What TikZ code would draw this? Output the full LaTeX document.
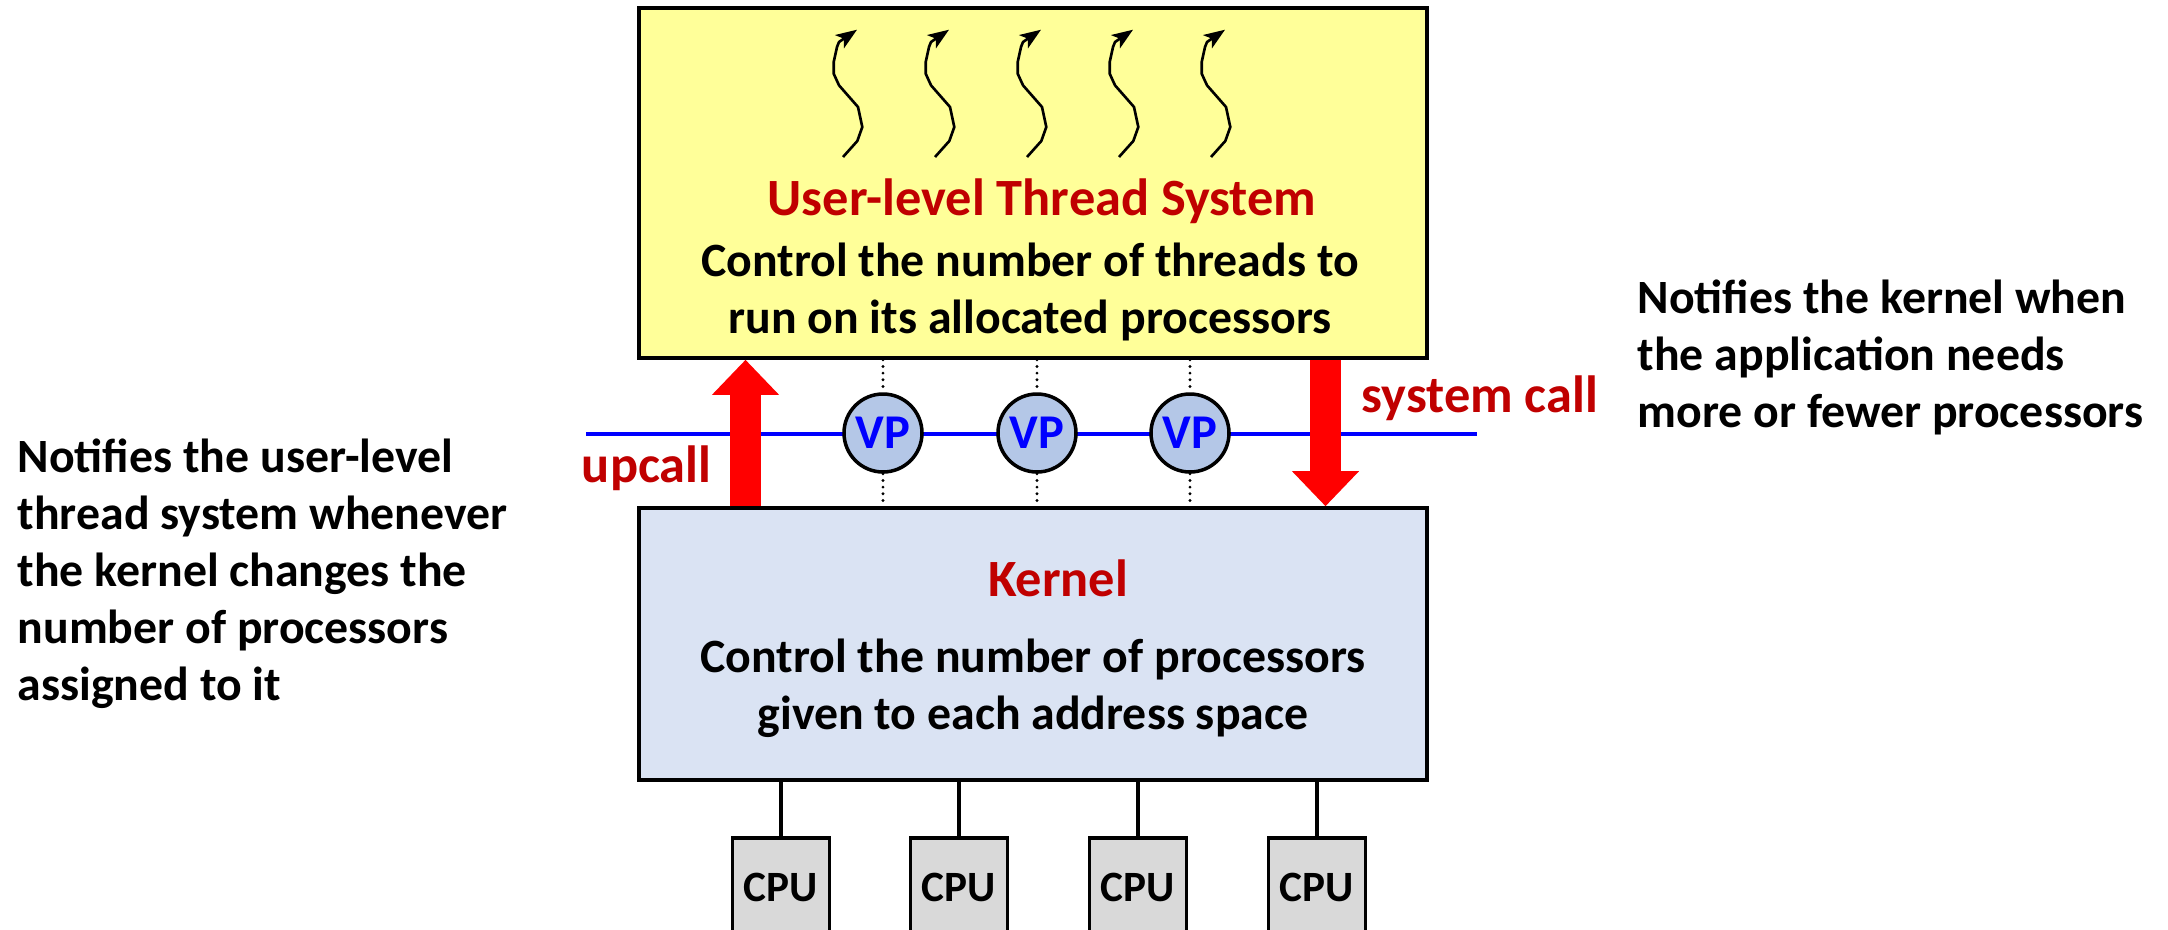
\documentclass[tikz,border=0pt]{standalone}
\usepackage{fontspec}
\setmainfont{Carlito}
\usepackage{xcolor}
\definecolor{slide-red}{HTML}{C00000}
\definecolor{call-red}{HTML}{FF0000}
\definecolor{bus-blue}{HTML}{0000FF}
\definecolor{user-yellow}{HTML}{FFFF99}
\definecolor{kernel-blue}{HTML}{DAE3F3}
\definecolor{vp-fill}{HTML}{B4C7E7}
\definecolor{cpu-grey}{HTML}{D9D9D9}
\usepackage{tikz}
\usetikzlibrary{arrows.meta}

\tikzset{
    layerbox/.style={draw=black, line width=1pt, minimum width=7.88cm, inner sep=0pt},
    heading/.style={font=\bfseries\fontsize{14.9}{17.5}\selectfont, text=slide-red, inner sep=0pt},
    bodytext/.style={font=\bfseries\fontsize{13.6}{16.2}\selectfont, inner sep=0pt},
    vpnode/.style={circle, draw=black, line width=1pt, fill=vp-fill, minimum size=0.78cm, inner sep=0pt, text=bus-blue, font=\bfseries\fontsize{13.8}{16}\selectfont},
    cpunode/.style={draw=black, line width=1pt, fill=cpu-grey, minimum width=0.97cm, minimum height=1.0cm, anchor=north, inner sep=0pt, font=\bfseries\fontsize{12.3}{14}\selectfont},
    callarrow/.style={call-red, line width=8.8pt, -{Triangle[width=18.5pt, length=10pt]}},
    vplink/.style={black, line width=0.9pt, dash pattern=on 0pt off 1.9pt, line cap=round},
    thread/.style={black, line width=0.75pt, line join=round, -{Stealth[length=6pt, width=4.5pt, inset=1.5pt]}},
}

\begin{document}
\begin{tikzpicture}

    % Canvas
    \useasboundingbox (0, 0) rectangle (21.68, -9.29);
    \clip (0, 0) rectangle (21.68, -9.29);

    % User level
    \node[layerbox, fill=user-yellow, minimum height=3.50cm] (user) at (10.33, -1.83) {};
    \foreach \tx in {8.43, 9.35, 10.27, 11.19, 12.11}
        \draw[thread, shift={(\tx, -1.57)}] (0, 0) -- (0.143, 0.16) -- (0.193, 0.30) -- (0.15, 0.50) -- (-0.04, 0.717) -- (-0.093, 0.833) -- (-0.093, 0.95) -- (-0.06, 1.10) -- (-0.04, 1.15) -- (0.14, 1.273);
    \node[heading, anchor=base] (user-title) at (10.42, -2.15) {User-level Thread System};
    \node[bodytext, align=center, anchor=base] (user-text) at (10.30, -3.33) {Control the number of threads to\\run on its allocated processors};

    % Kernel
    \node[layerbox, fill=kernel-blue, minimum height=2.72cm] (kernel) at (10.33, -6.44) {};
    \node[heading, anchor=base] (kernel-title) at (10.58, -5.96) {Kernel};
    \node[bodytext, align=center, anchor=base] (kernel-text) at (10.33, -7.29) {Control the number of processors\\given to each address space};

    % Virtual processors
    \coordinate (bus-left) at (5.86, -4.34);
    \coordinate (bus-right) at (14.77, -4.34);
    \draw[bus-blue, line width=1.4pt] (bus-left) -- (bus-right);
    \node[vpnode] (vp1) at (8.83, -4.33) {VP};
    \node[vpnode] (vp2) at (10.37, -4.33) {VP};
    \node[vpnode] (vp3) at (11.90, -4.33) {VP};
    \draw[vplink] (user.south -| vp1) -- (vp1.north);
    \draw[vplink] (vp1.south) -- (kernel.north -| vp1);
    \draw[vplink] (user.south -| vp2) -- (vp2.north);
    \draw[vplink] (vp2.south) -- (kernel.north -| vp2);
    \draw[vplink] (user.south -| vp3) -- (vp3.north);
    \draw[vplink] (vp3.south) -- (kernel.north -| vp3);

    % Calls
    \draw[callarrow] ([xshift=-2.875cm]kernel.north) -- ([xshift=-2.875cm]user.south);
    \draw[callarrow] ([xshift=2.925cm]user.south) -- ([xshift=2.925cm]kernel.north);
    \node[heading, anchor=base east] (upcall) at (7.12, -4.82) {upcall};
    \node[heading, anchor=base west] (syscall) at (13.61, -4.12) {system call};

    % Processors
    \node[cpunode] (cpu1) at (7.81, -8.36) {CPU};
    \node[cpunode] (cpu2) at (9.59, -8.36) {CPU};
    \node[cpunode] (cpu3) at (11.38, -8.36) {CPU};
    \node[cpunode] (cpu4) at (13.17, -8.36) {CPU};
    \draw[line width=0.9pt] (kernel.south -| cpu1) -- (cpu1.north);
    \draw[line width=0.9pt] (kernel.south -| cpu2) -- (cpu2.north);
    \draw[line width=0.9pt] (kernel.south -| cpu3) -- (cpu3.north);
    \draw[line width=0.9pt] (kernel.south -| cpu4) -- (cpu4.north);

    % Notes
    \node[bodytext, align=left, anchor=base west] (upcall-note) at (0.17, -7.00) {Notifies the user-level\\thread system whenever\\the kernel changes the\\number of processors\\assigned to it};
    \node[bodytext, align=left, anchor=base west] (syscall-note) at (16.37, -4.27) {Notifies the kernel when\\the application needs\\more or fewer processors};

\end{tikzpicture}
\end{document}
